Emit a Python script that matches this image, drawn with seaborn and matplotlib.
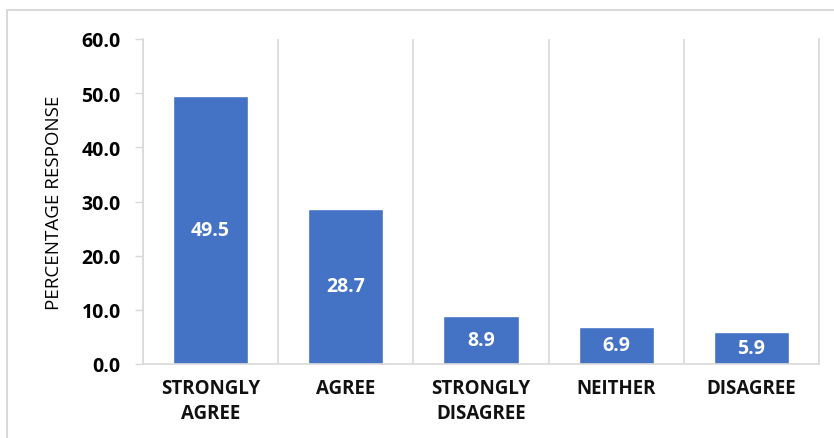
import matplotlib
matplotlib.use("Agg")
import matplotlib.pyplot as plt
import matplotlib.patches as mpatches
import numpy as np
import pandas as pd
import seaborn as sns

categories = ["STRONGLY\nAGREE", "AGREE", "STRONGLY\nDISAGREE", "NEITHER", "DISAGREE"]
values = [49.5, 28.7, 8.9, 6.9, 5.9]
y_ticks = [0, 10, 20, 30, 40, 50, 60]
y_label = "PERCENTAGE RESPONSE"

sns.set_theme(style="white")
plt.rcParams["font.family"] = ["Open Sans", "DejaVu Sans"]

df = pd.DataFrame({"category": categories, "value": values})

fig = plt.figure(figsize=(8.34, 4.39), dpi=100)
ax = fig.add_axes([143/834, 1-365/439, (819-143)/834, (365-40)/439])

sns.barplot(data=df, x="category", y="value", color="#4472C4", saturation=1,
            width=0.555, ax=ax)

ax.set_xlim(-0.5, len(categories) - 0.5)
ax.set_ylim(0, 60)
ax.set_yticks(y_ticks)
ax.set_yticklabels([f"{v:.1f}" for v in y_ticks], fontweight="bold", fontsize=14, color="black")
ax.set_xticklabels(categories, fontweight="bold", fontsize=13.5, color="#111111", linespacing=1.35)
ax.set_xlabel("")
ax.set_ylabel(y_label, fontsize=13.5, color="black", fontweight="medium")
ax.yaxis.set_label_coords(-0.118, 0.5)

ax.set_xticks(np.arange(-0.5, len(categories)), minor=True)
ax.grid(which="minor", axis="x", color="#d9d9d9", linewidth=1.2)
ax.grid(which="major", axis="both", visible=False)
ax.tick_params(axis="x", which="both", length=0, pad=10)
ax.tick_params(axis="y", which="major", length=6, width=1, color="#d9d9d9", pad=10, left=True)

for s in ["top"]:
    ax.spines[s].set_visible(False)
for s in ["left", "bottom", "right"]:
    ax.spines[s].set_color("#d9d9d9")
    ax.spines[s].set_linewidth(1.2)

for i, v in enumerate(values):
    ax.text(i, v / 2, f"{v:.1f}", ha="center", va="center", color="white",
            fontweight="bold", fontsize=14)

frame = mpatches.Rectangle((7/834, -0.1), 1.2, (439-11)/439 + 0.1, transform=fig.transFigure,
                           fill=False, edgecolor="#d9d9d9", linewidth=1.5, clip_on=False)
fig.patches.append(frame)

fig.savefig("out.png", dpi=100)
